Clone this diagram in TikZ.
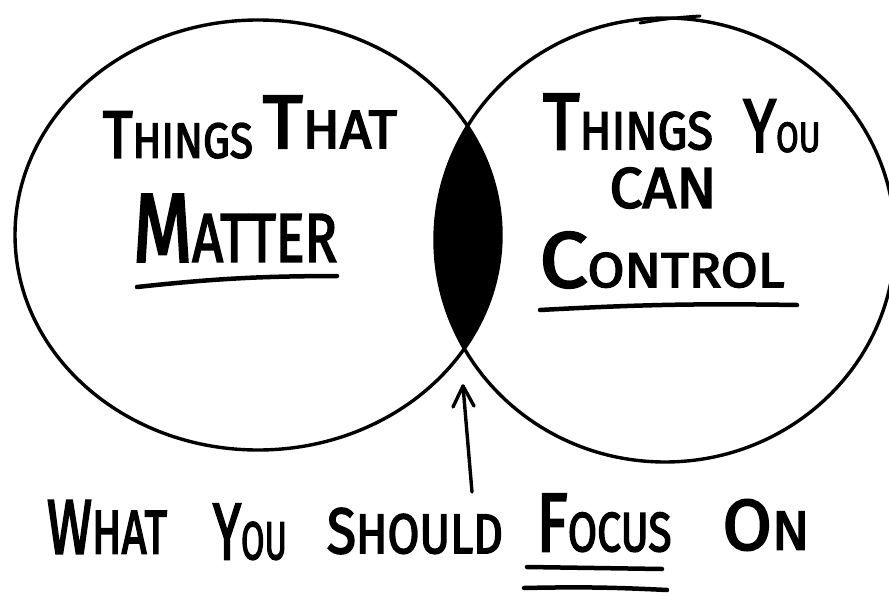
\documentclass[tikz,border=0pt]{standalone}
\usepackage{fontspec}
\setmainfont{Fira Sans}
\newfontfamily\hand{Fira Sans}[FakeBold=3]
\usepackage{graphicx}
\newcommand{\hw}[3]{{\fontsize{#3}{#3}\selectfont #1}{\fontsize{10}{10}\selectfont #2}}
\tikzset{
  lbl/.style={inner sep=0pt, outer sep=0pt, font=\hand},
  ring/.style={line width=3.4pt},
  uline/.style={line width=4.5pt, line cap=round},
  pointer/.style={line width=3.4pt, line cap=round, line join=round}
}
\begin{document}
\begin{tikzpicture}[x=1pt,y=-1pt]
\useasboundingbox[fill=white] (0,0) rectangle (889,597);
% lens
\begin{scope}
  \clip (258,235) ellipse [x radius=243pt, y radius=215pt];
  \fill[black] (665,240) ellipse [x radius=230pt, y radius=222pt];
\end{scope}
% circles
\draw[ring] (258,235) ellipse [x radius=243pt, y radius=215pt];
\draw[ring] (665,240) ellipse [x radius=230pt, y radius=222pt];
\draw[line width=3pt, line cap=round] (640,23) to[bend left=3] (700,16);
% left labels
\node[lbl] (t1) at (178,135) {\resizebox{150pt}{46pt}{\hw{T}{HINGS}{13.5}}};
\node[lbl] (t2) at (330,122) {\resizebox{134pt}{52pt}{\hw{T}{HAT}{14}}};
\node[lbl] (t3) at (235,228) {\resizebox{204pt}{67pt}{\hw{M}{ATTER}{14.2}}};
\coordinate (u1a) at (137,287);
\coordinate (u1b) at (337,276);
\draw[uline] (u1a) to[bend left=3] (u1b);
% right labels
\node[lbl] (r1) at (628,122) {\resizebox{170pt}{55pt}{\hw{T}{HINGS}{15}}};
\node[lbl] (r2) at (782,126) {\resizebox{77pt}{52pt}{\hw{Y}{OU}{18}}};
\node[lbl] (r3) at (663,188) {\resizebox{107pt}{40pt}{\fontsize{10}{10}\selectfont CAN}};
\node[lbl] (r4) at (662,260) {\resizebox{245pt}{55pt}{\hw{C}{ONTROL}{16}}};
\coordinate (u2a) at (540,310);
\coordinate (u2b) at (797,305);
\draw[uline] (u2a) to[bend left=2] (u2b);
% arrow
\coordinate (tail) at (472,492);
\coordinate (tip) at (463,386);
\draw[pointer] (tail) -- (tip);
\draw[pointer] ([shift={(-10,21)}]tip) -- (tip) -- ([shift={(11,20)}]tip);
% bottom label
\node[lbl] (b1) at (107,527) {\resizebox{120pt}{53pt}{\hw{W}{HAT}{12.5}}};
\node[lbl] (b2) at (250,532) {\resizebox{74pt}{55pt}{\hw{Y}{OU}{15}}};
\node[lbl] (b3) at (415,531) {\resizebox{176pt}{45pt}{\hw{S}{HOULD}{11.5}}};
\node[lbl] (b4) at (604,523) {\resizebox{135pt}{57pt}{\hw{F}{OCUS}{15}}};
\node[lbl] (b5) at (766,525) {\resizebox{87pt}{50pt}{\hw{O}{N}{13}}};
\coordinate (f1a) at (527,567);
\coordinate (f1b) at (662,569);
\coordinate (f2a) at (524,588);
\coordinate (f2b) at (667,590);
\draw[uline] (f1a) -- (f1b);
\draw[uline] (f2a) to[bend left=2] (f2b);
\end{tikzpicture}
\end{document}
